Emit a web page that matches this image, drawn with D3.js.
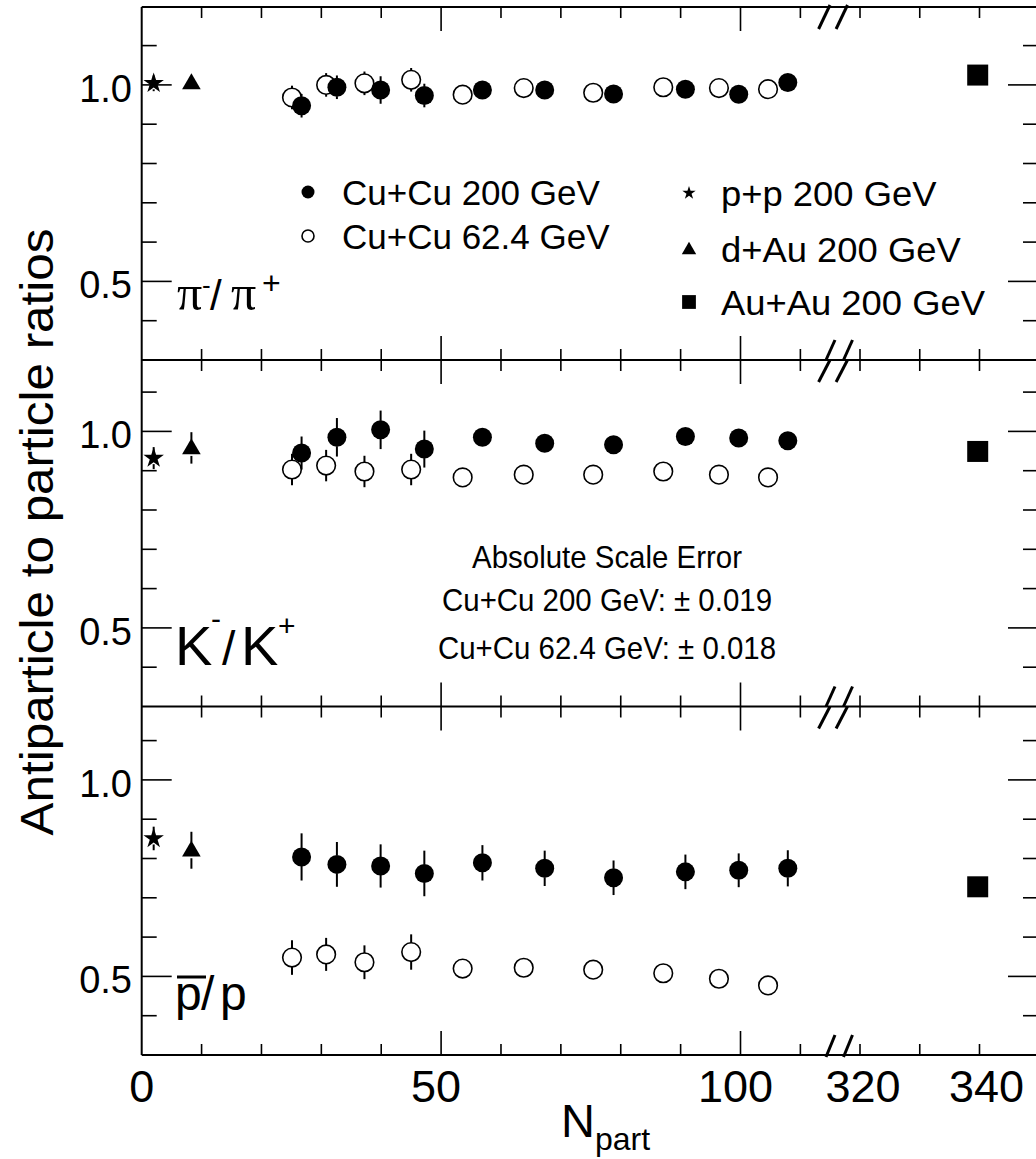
<!DOCTYPE html>
<html><head><meta charset="utf-8">
<script src="https://cdn.jsdelivr.net/npm/d3@7"></script>
<style>html,body{margin:0;padding:0;background:#fff}</style>
</head><body><svg id="c" width="1036" height="1159" xmlns="http://www.w3.org/2000/svg"></svg>
<script>
// ---------------- DATA ----------------
const npartCu200 = [26.7, 32.6, 39.9, 47.2, 56.9, 67.3, 78.8, 90.8, 99.7, 107.9];
const npartCu62  = [25.1, 30.8, 37.2, 45.0, 53.6, 63.8, 75.4, 87.1, 96.4, 104.6];
const npartPP = 2.0, npartDAu = 8.3, npartAuAu = 339.7;

const cu200Pi    = [0.947, 0.994, 0.987, 0.973, 0.987, 0.987, 0.977, 0.989, 0.976, 1.006];
const cu200PiErr = [0.030, 0.030, 0.035, 0.030, 0.020, 0.015, 0.015, 0.015, 0.015, 0.015];
const cu62Pi     = [0.968, 1.000, 1.004, 1.013, 0.975, 0.992, 0.980, 0.994, 0.992, 0.989];
const cu62PiErr  = [0.030, 0.030, 0.030, 0.030, 0.010, 0.010, 0.010, 0.010, 0.010, 0.010];

const cu200K     = [0.945, 0.985, 1.004, 0.955, 0.985, 0.970, 0.966, 0.987, 0.983, 0.976];
const cu200KErr  = [0.042, 0.049, 0.049, 0.047, 0.020, 0.015, 0.015, 0.015, 0.015, 0.015];
const cu62K      = [0.903, 0.913, 0.898, 0.903, 0.883, 0.890, 0.890, 0.898, 0.890, 0.883];
const cu62KErr   = [0.040, 0.040, 0.040, 0.040, 0.012, 0.012, 0.012, 0.012, 0.012, 0.012];

const cu200P     = [0.804, 0.785, 0.781, 0.762, 0.789, 0.775, 0.751, 0.766, 0.770, 0.775];
const cu200PErr  = [0.060, 0.057, 0.055, 0.058, 0.045, 0.045, 0.044, 0.044, 0.043, 0.046];
const cu62P      = [0.548, 0.556, 0.536, 0.562, 0.520, 0.522, 0.517, 0.508, 0.494, 0.477];
const cu62PErr   = [0.044, 0.042, 0.043, 0.045, 0.015, 0.015, 0.012, 0.012, 0.012, 0.012];

// per panel: pi, K, pbar/p
const ppRatio   = [1.004, 0.932, 0.851];
const ppErr     = [0.020, 0.028, 0.030];
const dAuRatio  = [1.005, 0.958, 0.821];
const dAuErr    = [0.010, 0.040, 0.047];
const auAuRatio = [1.025, 0.949, 0.728];
const auAuErr   = [0.010, 0.012, 0.010];

const xTicksSeg1 = [0, 10, 20, 30, 40, 50, 60, 70, 80, 90, 100, 110];
const xMajorSeg1 = [0, 50, 100];
const xTicksSeg2 = [320, 330, 340, 350];
const xTickLabels = ["0", "50", "100", "320", "340"];
const xTickLabelValues = [0, 50, 100, 320, 340];
const yTicks = [0.4, 0.5, 0.6, 0.7, 0.8, 0.9, 1.0, 1.1];
const yMajor = [0.5, 1.0];
const yTickLabels = ["0.5", "1.0"];

const legendLeft  = ["Cu+Cu 200 GeV", "Cu+Cu 62.4 GeV"];
const legendRight = ["p+p 200 GeV", "d+Au 200 GeV", "Au+Au 200 GeV"];
const scaleErrorText = ["Absolute Scale Error", "Cu+Cu 200 GeV: \u00B1 0.019", "Cu+Cu 62.4 GeV: \u00B1 0.018"];
const yTitle = "Antiparticle to particle ratios";

// ---------------- LAYOUT ----------------
const SANS = "'Liberation Sans', Arial, Helvetica, sans-serif";
const SERIF = "'Liberation Serif', 'Times New Roman', serif";
const svg = d3.select("#c");
svg.append("rect").attr("width", 1036).attr("height", 1159).attr("fill", "#fff");

const xLeft = 141.7, xRight = 1038;
const xSeg1 = d3.scaleLinear().domain([0, 100]).range([xLeft, 740.5]);
const xSeg2 = d3.scaleLinear().domain([320, 340]).range([860, 979.5]);
const X = n => n > 200 ? xSeg2(n) : xSeg1(n);

const panelFrames = [{top: 7, bottom: 360}, {top: 360, bottom: 706.5}, {top: 706.5, bottom: 1055}];
const yScales = panelFrames.map(p => d3.scaleLinear().domain([0.3, 1.0]).range([p.bottom, p.bottom - 0.7 * 393]));

const ink = "#000";
const frame = svg.append("g").attr("stroke", ink).attr("stroke-width", 2).attr("fill", "none");
frame.append("line").attr("x1", xLeft).attr("x2", xLeft).attr("y1", panelFrames[0].top).attr("y2", panelFrames[2].bottom);
frame.append("line").attr("x1", xRight).attr("x2", xRight).attr("y1", panelFrames[0].top).attr("y2", panelFrames[2].bottom);
const hLines = [panelFrames[0].top, panelFrames[0].bottom, panelFrames[1].bottom, panelFrames[2].bottom];
hLines.forEach(y => frame.append("line").attr("x1", xLeft).attr("x2", xRight).attr("y1", y).attr("y2", y));

const ticks = svg.append("g").attr("stroke", ink).attr("stroke-width", 1.6);
panelFrames.forEach((p, i) => {
  const ys = yScales[i];
  const allX = xTicksSeg1.map(v => ({v, x: xSeg1(v), major: xMajorSeg1.includes(v)}))
    .concat(xTicksSeg2.map(v => ({v, x: xSeg2(v), major: false})))
    .filter(d => d.x > xLeft + 1 && d.x < xRight - 1);
  allX.forEach(d => {
    const len = d.major ? 24 : 11;
    ticks.append("line").attr("x1", d.x).attr("x2", d.x).attr("y1", p.top).attr("y2", p.top + len);
    ticks.append("line").attr("x1", d.x).attr("x2", d.x).attr("y1", p.bottom).attr("y2", p.bottom - len);
  });
  yTicks.forEach(v => {
    const y = ys(v);
    if (y <= p.top + 2 || y >= p.bottom - 2) return;
    const len = yMajor.includes(v) ? 30 : 15;
    ticks.append("line").attr("x1", xLeft).attr("x2", xLeft + len).attr("y1", y).attr("y2", y);
    ticks.append("line").attr("x1", xRight).attr("x2", xRight - len).attr("y1", y).attr("y2", y);
  });
  yMajor.forEach((v, k) => {
    svg.append("text").attr("x", 132).attr("y", ys(v) + 17)
      .attr("text-anchor", "end").attr("font-family", SANS).attr("font-size", 38)
      .attr("fill", ink).text(yTickLabels[k]);
  });
  const brk = svg.append("g").attr("stroke", ink).attr("stroke-width", 3);
  [0, 17.5].forEach(o => {
    brk.append("line").attr("x1", 818.6 + o).attr("y1", p.top + 22).attr("x2", 830 + o).attr("y2", p.top - (i === 0 ? 2 : 0));
    brk.append("line").attr("x1", 826 + o).attr("y1", p.bottom + (i === 2 ? 2 : 0)).attr("x2", 835 + o).attr("y2", p.bottom - 20);
  });
});

// x tick labels (small per-label nudges as in the original typesetting)
const xLabelNudge = [0, -5, -5, 3, 7];
xTickLabelValues.forEach((v, k) => {
  svg.append("text").attr("x", X(v) + xLabelNudge[k]).attr("y", 1102).attr("text-anchor", "middle")
    .attr("font-family", SANS).attr("font-size", 45).attr("fill", ink).text(xTickLabels[k]);
});

const xt = svg.append("text").attr("x", 561).attr("y", 1137).attr("font-family", SANS).attr("fill", ink);
xt.append("tspan").attr("font-size", 47).text("N");
xt.append("tspan").attr("font-size", 32).attr("dy", 13).text("part");

svg.append("text").attr("transform", "translate(53,532) rotate(-90)")
  .attr("text-anchor", "middle").attr("font-family", SANS).attr("font-size", 46)
  .attr("textLength", 607).attr("lengthAdjust", "spacingAndGlyphs")
  .attr("fill", ink).text(yTitle);

// ---------------- MARKS ----------------
const marks = svg.append("g");
function errBar(x, y, yHi, yLo, r) {
  if (y - yHi > r) marks.append("line").attr("x1", x).attr("x2", x).attr("y1", yHi).attr("y2", y - r)
    .attr("stroke", ink).attr("stroke-width", 2);
  if (yLo - y > r) marks.append("line").attr("x1", x).attr("x2", x).attr("y1", y + r).attr("y2", yLo)
    .attr("stroke", ink).attr("stroke-width", 2);
}
function drawSym(g, type, x, y, big) {
  if (type === "filled") {
    g.append("circle").attr("cx", x).attr("cy", y).attr("r", big ? 9.5 : 6.5).attr("fill", ink);
  } else if (type === "open") {
    g.append("circle").attr("cx", x).attr("cy", y).attr("r", big ? 9.3 : 6).attr("fill", "#fff")
      .attr("stroke", ink).attr("stroke-width", 1.6);
  } else if (type === "star") {
    g.append("path").attr("d", d3.symbol(d3.symbolStar, big ? 130 : 55)()).attr("transform", `translate(${x},${y})`).attr("fill", ink);
  } else if (type === "triangle") {
    g.append("path").attr("d", d3.symbol(d3.symbolTriangle, big ? 150 : 90)()).attr("transform", `translate(${x},${y + 1})`).attr("fill", ink);
  } else if (type === "square") {
    g.append("path").attr("d", d3.symbol(d3.symbolSquare, big ? 441 : 190)()).attr("transform", `translate(${x},${y})`).attr("fill", ink);
  }
}
function series(ys, npart, vals, errs, type, r) {
  npart.forEach((n, k) => {
    const x = X(n), y = ys(vals[k]);
    errBar(x, y, ys(vals[k] + errs[k]), ys(vals[k] - errs[k]), r);
    drawSym(marks, type, x, y, true);
  });
}
const panelData = [
  {c200: cu200Pi, e200: cu200PiErr, c62: cu62Pi, e62: cu62PiErr},
  {c200: cu200K,  e200: cu200KErr,  c62: cu62K,  e62: cu62KErr},
  {c200: cu200P,  e200: cu200PErr,  c62: cu62P,  e62: cu62PErr}
];
panelData.forEach((d, i) => {
  const ys = yScales[i];
  series(ys, npartCu62, d.c62, d.e62, "open", 9);
  series(ys, npartCu200, d.c200, d.e200, "filled", 9);
  series(ys, [npartPP], [ppRatio[i]], [ppErr[i]], "star", 6);
  series(ys, [npartDAu], [dAuRatio[i]], [dAuErr[i]], "triangle", 8);
  series(ys, [npartAuAu], [auAuRatio[i]], [auAuErr[i]], "square", 11);
});

// ---------------- LEGENDS ----------------
const leg = svg.append("g");
const legendTypesLeft = ["filled", "open"];
const legLeftY = [192, 236];
legendLeft.forEach((t, k) => {
  drawSym(leg, legendTypesLeft[k], 308, legLeftY[k], false);
  leg.append("text").attr("transform", `translate(342,${legLeftY[k] + 12.5}) scale(1.0,1)`)
    .attr("font-family", SANS).attr("font-size", 35).attr("fill", ink).text(t);
});
const legendTypesRight = ["star", "triangle", "square"];
const legRightY = [193, 249, 302];
legendRight.forEach((t, k) => {
  drawSym(leg, legendTypesRight[k], 689, legRightY[k], false);
  leg.append("text").attr("transform", `translate(721,${legRightY[k] + 12.5}) scale(1.04,1)`)
    .attr("font-family", SANS).attr("font-size", 35).attr("fill", ink).text(t);
});

const seY = [568, 611, 659];
scaleErrorText.forEach((t, k) => {
  svg.append("text").attr("transform", `translate(607,${seY[k]}) scale(0.92,1)`)
    .attr("text-anchor", "middle").attr("font-family", SANS).attr("font-size", 32).attr("fill", ink).text(t);
});

// ---------------- PANEL LABELS ----------------
const lab1 = svg.append("text").attr("fill", ink);
lab1.append("tspan").attr("x", 177).attr("y", 310).attr("font-family", SERIF).attr("font-size", 50).text("\u03C0");
lab1.append("tspan").attr("x", 202).attr("y", 294).attr("font-family", SANS).attr("font-size", 26).text("-");
lab1.append("tspan").attr("x", 210).attr("y", 310).attr("font-family", SANS).attr("font-size", 42).text("/");
lab1.append("tspan").attr("x", 231).attr("y", 310).attr("font-family", SERIF).attr("font-size", 50).text("\u03C0");
lab1.append("tspan").attr("x", 262).attr("y", 294).attr("font-family", SANS).attr("font-size", 32).text("+");

const lab2 = svg.append("text").attr("fill", ink).attr("font-family", SANS);
lab2.append("tspan").attr("x", 175).attr("y", 665).attr("font-size", 56).text("K");
lab2.append("tspan").attr("x", 211).attr("y", 629).attr("font-size", 30).text("-");
lab2.append("tspan").attr("x", 222).attr("y", 665).attr("font-size", 48).text("/");
lab2.append("tspan").attr("x", 241).attr("y", 665).attr("font-size", 56).text("K");
lab2.append("tspan").attr("x", 278).attr("y", 636).attr("font-size", 30).text("+");

const lab3 = svg.append("text").attr("fill", ink).attr("font-family", SANS).attr("font-size", 48);
lab3.append("tspan").attr("x", 175).attr("y", 1010).text("p");
lab3.append("tspan").attr("x", 201).attr("y", 1010).text("/");
lab3.append("tspan").attr("x", 220).attr("y", 1010).text("p");
svg.append("line").attr("x1", 177).attr("x2", 206).attr("y1", 977).attr("y2", 977).attr("stroke", ink).attr("stroke-width", 3);
</script>
</body></html>
